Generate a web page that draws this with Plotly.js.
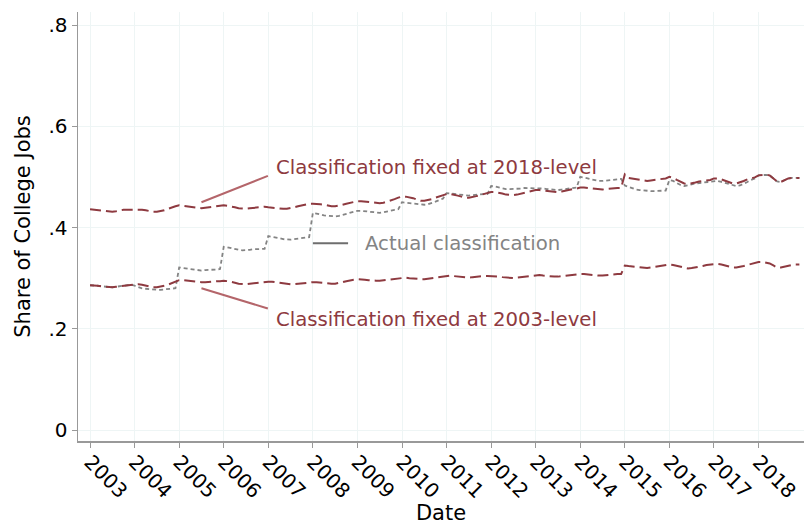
<!DOCTYPE html>
<html><head><meta charset="utf-8">
<script src="https://cdn.plot.ly/plotly-3.0.1.min.js"></script>
<style>html,body{margin:0;padding:0;background:#fff}#chart{width:804px;height:525px}</style>
</head><body><div id="chart"></div>
<script>
const years = [2003,2004,2005,2006,2007,2008,2009,2010,2011,2012,2013,2014,2015,2016,2017,2018];
const tickLabels = years.map(String);
const yTickVals = [0, 0.2, 0.4, 0.6, 0.8];
const yTickText = ['0', '.2', '.4', '.6', '.8'];

// Monthly values, one row of 12 per year (Jan..Dec)
const fixed2018 = [
 0.436,0.435,0.434,0.433,0.432,0.431,0.431,0.432,0.434,0.435,0.435,0.435,
 0.436,0.436,0.435,0.434,0.432,0.431,0.431,0.432,0.434,0.437,0.440,0.442,
 0.444,0.443,0.442,0.440,0.439,0.438,0.438,0.439,0.440,0.442,0.443,0.444,
 0.444,0.443,0.442,0.440,0.438,0.437,0.437,0.438,0.439,0.440,0.441,0.441,
 0.440,0.439,0.438,0.437,0.437,0.437,0.438,0.440,0.442,0.444,0.446,0.447,
 0.447,0.447,0.446,0.445,0.443,0.442,0.442,0.443,0.445,0.447,0.449,0.451,
 0.452,0.452,0.451,0.450,0.449,0.448,0.448,0.449,0.451,0.453,0.456,0.459,
 0.461,0.461,0.460,0.458,0.455,0.453,0.453,0.454,0.456,0.459,0.461,0.463,
 0.466,0.466,0.465,0.463,0.461,0.459,0.459,0.460,0.462,0.464,0.466,0.468,
 0.470,0.470,0.469,0.467,0.465,0.464,0.464,0.465,0.467,0.469,0.471,0.472,
 0.474,0.474,0.473,0.472,0.471,0.470,0.470,0.471,0.473,0.475,0.476,0.477,
 0.479,0.479,0.478,0.477,0.476,0.475,0.475,0.476,0.477,0.478,0.478,0.478,
 0.505,0.498,0.497,0.496,0.495,0.493,0.492,0.493,0.494,0.495,0.496,0.497,
 0.500,0.498,0.494,0.490,0.487,0.486,0.487,0.489,0.491,0.492,0.493,0.494,
 0.497,0.497,0.495,0.492,0.489,0.487,0.487,0.489,0.492,0.495,0.497,0.499,
 0.503,0.504,0.504,0.503,0.497,0.491,0.490,0.494,0.497,0.498,0.498,0.498
];
const fixed2003 = [
 0.286,0.286,0.285,0.284,0.283,0.282,0.282,0.283,0.284,0.285,0.286,0.287,
 0.288,0.288,0.287,0.285,0.283,0.282,0.282,0.283,0.285,0.287,0.290,0.293,
 0.296,0.296,0.295,0.294,0.293,0.292,0.292,0.292,0.293,0.293,0.294,0.294,
 0.295,0.294,0.293,0.291,0.289,0.288,0.288,0.289,0.290,0.291,0.292,0.292,
 0.293,0.293,0.292,0.291,0.289,0.288,0.288,0.288,0.289,0.290,0.291,0.291,
 0.292,0.292,0.291,0.290,0.289,0.289,0.289,0.290,0.292,0.294,0.296,0.297,
 0.298,0.298,0.297,0.296,0.295,0.295,0.295,0.296,0.297,0.298,0.299,0.300,
 0.301,0.301,0.300,0.299,0.298,0.298,0.298,0.299,0.300,0.302,0.303,0.304,
 0.305,0.305,0.304,0.303,0.302,0.301,0.301,0.302,0.303,0.303,0.304,0.304,
 0.304,0.304,0.303,0.302,0.301,0.300,0.300,0.301,0.302,0.303,0.304,0.305,
 0.306,0.306,0.305,0.304,0.303,0.303,0.303,0.304,0.305,0.306,0.307,0.307,
 0.308,0.308,0.307,0.306,0.305,0.305,0.305,0.306,0.307,0.307,0.308,0.308,
 0.325,0.324,0.323,0.322,0.321,0.320,0.320,0.321,0.322,0.323,0.324,0.325,
 0.327,0.326,0.324,0.322,0.320,0.319,0.320,0.321,0.323,0.324,0.326,0.327,
 0.328,0.328,0.327,0.325,0.323,0.321,0.321,0.322,0.324,0.326,0.328,0.330,
 0.332,0.332,0.331,0.329,0.325,0.321,0.321,0.323,0.325,0.326,0.327,0.327
];
const actual = [
 0.286,0.286,0.285,0.284,0.283,0.282,0.282,0.283,0.284,0.285,0.286,0.287,
 0.285,0.282,0.280,0.279,0.278,0.277,0.277,0.277,0.278,0.279,0.280,0.280,
 0.321,0.320,0.319,0.317,0.316,0.315,0.315,0.316,0.316,0.317,0.317,0.318,
 0.362,0.361,0.359,0.357,0.356,0.355,0.355,0.356,0.357,0.357,0.358,0.358,
 0.383,0.382,0.381,0.379,0.377,0.376,0.376,0.377,0.378,0.379,0.380,0.381,
 0.429,0.428,0.426,0.424,0.423,0.422,0.422,0.423,0.425,0.427,0.429,0.431,
 0.433,0.433,0.432,0.431,0.430,0.429,0.429,0.430,0.432,0.434,0.435,0.436,
 0.450,0.449,0.448,0.447,0.446,0.445,0.445,0.446,0.448,0.451,0.454,0.457,
 0.468,0.467,0.466,0.465,0.464,0.463,0.463,0.464,0.465,0.466,0.466,0.466,
 0.482,0.481,0.479,0.477,0.476,0.476,0.476,0.477,0.477,0.478,0.478,0.478,
 0.478,0.478,0.477,0.476,0.475,0.474,0.474,0.475,0.476,0.477,0.478,0.479,
 0.500,0.499,0.497,0.495,0.493,0.492,0.492,0.493,0.494,0.495,0.496,0.496,
 0.483,0.480,0.477,0.475,0.474,0.473,0.473,0.472,0.472,0.472,0.472,0.473,
 0.494,0.492,0.488,0.484,0.482,0.483,0.485,0.487,0.488,0.489,0.490,0.491,
 0.492,0.492,0.490,0.488,0.486,0.484,0.482,0.483,0.486,0.490,0.494,0.497,
 0.503,0.504,0.504,0.503,0.497,0.491,0.490,0.494,0.497,0.498,0.498,0.498
];

const months = [];
years.forEach(y => { for (let m = 0; m < 12; m++) months.push(y + m / 12); });

const red = '#8e3a40';
const redLight = '#b4656a';
const gray = '#848484';
const font = 'DejaVu Sans, sans-serif';

const traces = [
  {x: months, y: actual, mode: 'lines', line: {color: gray, width: 1.8, dash: '4px,3px'}, hoverinfo: 'skip'},
  {x: months, y: fixed2018, mode: 'lines', line: {color: red, width: 2, dash: '11px,5px'}, hoverinfo: 'skip'},
  {x: months, y: fixed2003, mode: 'lines', line: {color: red, width: 2, dash: '11px,5px'}, hoverinfo: 'skip'}
];

const layout = {
  width: 804, height: 525,
  margin: {l: 78, r: 0, t: 12, b: 84},
  paper_bgcolor: '#fff', plot_bgcolor: '#fff',
  showlegend: false,
  font: {family: font, color: '#000', size: 20},
  xaxis: {
    range: [2002.73, 2019.02],
    tickvals: years, ticktext: tickLabels, tickangle: 45,
    ticks: 'outside', ticklen: 5, tickcolor: '#999', tickwidth: 1,
    ticklabelstandoff: -5,
    showline: true, linecolor: '#999', linewidth: 1.5,
    showgrid: true, gridcolor: '#eef5f5', gridwidth: 1,
    zeroline: false,
    tickfont: {family: font, size: 20, color: '#000'},
    title: {text: 'Date', font: {family: font, size: 21, color: '#000'}, standoff: 6}
  },
  yaxis: {
    range: [-0.0217, 0.8257],
    tickvals: yTickVals, ticktext: yTickText,
    ticks: 'outside', ticklen: 5, tickcolor: '#999', tickwidth: 1,
    showline: true, linecolor: '#999', linewidth: 1.5,
    showgrid: true, gridcolor: '#eef5f5', gridwidth: 1,
    zeroline: false,
    tickfont: {family: font, size: 20, color: '#000'},
    title: {text: 'Share of College Jobs', font: {family: font, size: 21, color: '#000'}, standoff: 12}
  },
  shapes: [
    {type: 'line', xref: 'x', yref: 'y', x0: 2005.5, y0: 0.450, x1: 2006.99, y1: 0.502, line: {color: redLight, width: 2}},
    {type: 'line', xref: 'x', yref: 'y', x0: 2005.5, y0: 0.280, x1: 2006.99, y1: 0.240, line: {color: redLight, width: 2}},
    {type: 'line', xref: 'x', yref: 'y', x0: 2008.0, y0: 0.369, x1: 2008.79, y1: 0.369, line: {color: '#6e6e6e', width: 2}}
  ],
  annotations: [
    {xref: 'x', yref: 'y', x: 2007.12, y: 0.5195, text: 'Classification fixed at 2018-level', showarrow: false, xanchor: 'left', yanchor: 'middle', font: {family: font, size: 19.7, color: red}},
    {xref: 'x', yref: 'y', x: 2007.12, y: 0.219, text: 'Classification fixed at 2003-level', showarrow: false, xanchor: 'left', yanchor: 'middle', font: {family: font, size: 19.7, color: red}},
    {xref: 'x', yref: 'y', x: 2009.12, y: 0.369, text: 'Actual classification', showarrow: false, xanchor: 'left', yanchor: 'middle', font: {family: font, size: 19.7, color: gray}}
  ]
};

Plotly.newPlot('chart', traces, layout, {staticPlot: true, displayModeBar: false});
</script>
</body></html>
